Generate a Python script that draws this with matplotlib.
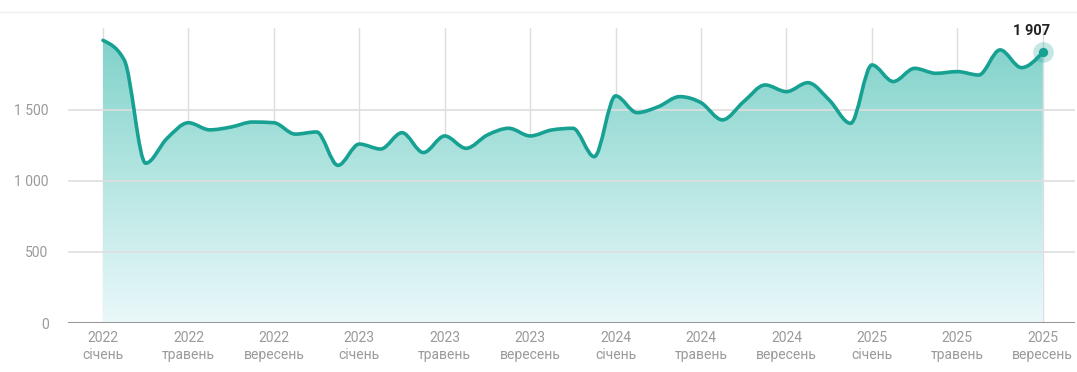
import matplotlib.pyplot as plt
import numpy as np
from matplotlib.path import Path
from matplotlib.patches import PathPatch
from matplotlib.colors import LinearSegmentedColormap
from matplotlib.lines import Line2D

plt.rcParams['font.family'] = ['Roboto', 'DejaVu Sans']

# Щомісячні значення, січень 2022 – вересень 2025
years = [2022] * 12 + [2023] * 12 + [2024] * 12 + [2025] * 9
months = ['січень', 'лютий', 'березень', 'квітень', 'травень', 'червень',
          'липень', 'серпень', 'вересень', 'жовтень', 'листопад', 'грудень']
values = [1990, 1850, 1125, 1300, 1410, 1360, 1380, 1415, 1410, 1330, 1345, 1110,
          1260, 1225, 1340, 1200, 1317, 1230, 1324, 1371, 1317, 1359, 1371, 1171,
          1599, 1481, 1523, 1594, 1551, 1430, 1559, 1676, 1629, 1692, 1570, 1406,
          1817, 1700, 1793, 1758, 1770, 1746, 1923, 1798, 1907]
tick_step = 4
y_ticks = [0, 500, 1000, 1500]
y_tick_labels = ['0', '500', '1 000', '1 500']

LINE = '#17a193'
GRID = '#dedede'
LABEL = '#9a9a9a'


def monotone_path(x, y):
    """Плавна крива через точки (монотонні дотичні, як у d3 curveMonotoneX)."""
    x = np.asarray(x, float)
    y = np.asarray(y, float)
    h = np.diff(x)
    s = np.diff(y) / h
    t = np.zeros_like(y)
    for i in range(1, len(y) - 1):
        if s[i - 1] * s[i] <= 0:
            t[i] = 0
        else:
            p = (s[i - 1] * h[i] + s[i] * h[i - 1]) / (h[i - 1] + h[i])
            t[i] = np.sign(s[i - 1]) * min(abs(s[i - 1]), abs(s[i]), 0.5 * abs(p)) * 2
    t[0] = (3 * s[0] - t[1]) / 2
    t[-1] = (3 * s[-1] - t[-2]) / 2
    verts = [(x[0], y[0])]
    codes = [Path.MOVETO]
    for i in range(len(x) - 1):
        dx = h[i] / 3
        verts += [(x[i] + dx, y[i] + t[i] * dx),
                  (x[i + 1] - dx, y[i + 1] - t[i + 1] * dx),
                  (x[i + 1], y[i + 1])]
        codes += [Path.CURVE4] * 3
    return verts, codes


fig = plt.figure(figsize=(10.77, 3.72), dpi=100)
ax = fig.add_axes([0.0631, 0.1317, 0.9349, 0.793])

xs = np.arange(len(values))
ax.set_xlim(-1.64, 45.5)
ax.set_ylim(0, 2077)

verts, codes = monotone_path(xs, values)

# Заливка під кривою з вертикальним градієнтом
fill_verts = verts + [(xs[-1], 0), (xs[0], 0), verts[0]]
fill_codes = codes + [Path.LINETO, Path.LINETO, Path.CLOSEPOLY]
clip = PathPatch(Path(fill_verts, fill_codes), facecolor='none', edgecolor='none')
ax.add_patch(clip)
cmap = LinearSegmentedColormap.from_list('teal', ['#eaf8fa', '#b6e6e2', '#80d2ca'])
grad = np.linspace(0, 1, 256).reshape(-1, 1)
img = ax.imshow(grad, cmap=cmap, origin='lower', aspect='auto',
                extent=[xs[0], xs[-1], 0, 2000], zorder=1)
img.set_clip_path(clip)

ax.add_patch(PathPatch(Path(verts, codes), facecolor='none', edgecolor=LINE,
                       lw=2.6, zorder=3, capstyle='round', joinstyle='round'))

# Остання точка з підписом
ax.scatter([xs[-1]], [values[-1]], s=220, color=LINE, alpha=0.25, lw=0, zorder=4)
ax.scatter([xs[-1]], [values[-1]], s=45, color=LINE, lw=0, zorder=5)
ax.annotate(f'{values[-1]:,}'.replace(',', ' '), (xs[-1], values[-1]),
            xytext=(-8, 10), textcoords='offset points', ha='center', va='bottom',
            fontsize=10.5, fontweight='bold', color='#222222', zorder=6)

# Сітка й осі
tick_pos = xs[::tick_step]
for p in tick_pos:
    ax.axvline(p, color=GRID, lw=1, zorder=0.5)
for v in y_ticks[1:]:
    ax.axhline(v, color=GRID, lw=1.2, zorder=2)
ax.axhline(0, color='#8a8a8a', lw=2, zorder=4)

ax.set_xticks(tick_pos)
ax.set_xticklabels([f'{years[i]}\n{months[i % 12]}' for i in tick_pos],
                   fontsize=10, color=LABEL, linespacing=1.25)
ax.set_yticks(y_ticks)
ax.set_yticklabels(y_tick_labels, fontsize=10, color=LABEL)
ax.tick_params(length=0)
ax.tick_params(axis='x', pad=6)
ax.tick_params(axis='y', pad=14)
for sp in ax.spines.values():
    sp.set_visible(False)

fig.add_artist(Line2D([0, 1], [1 - 12 / 372] * 2, color='#eeeeee', lw=1))

fig.savefig('out.png', dpi=100)
